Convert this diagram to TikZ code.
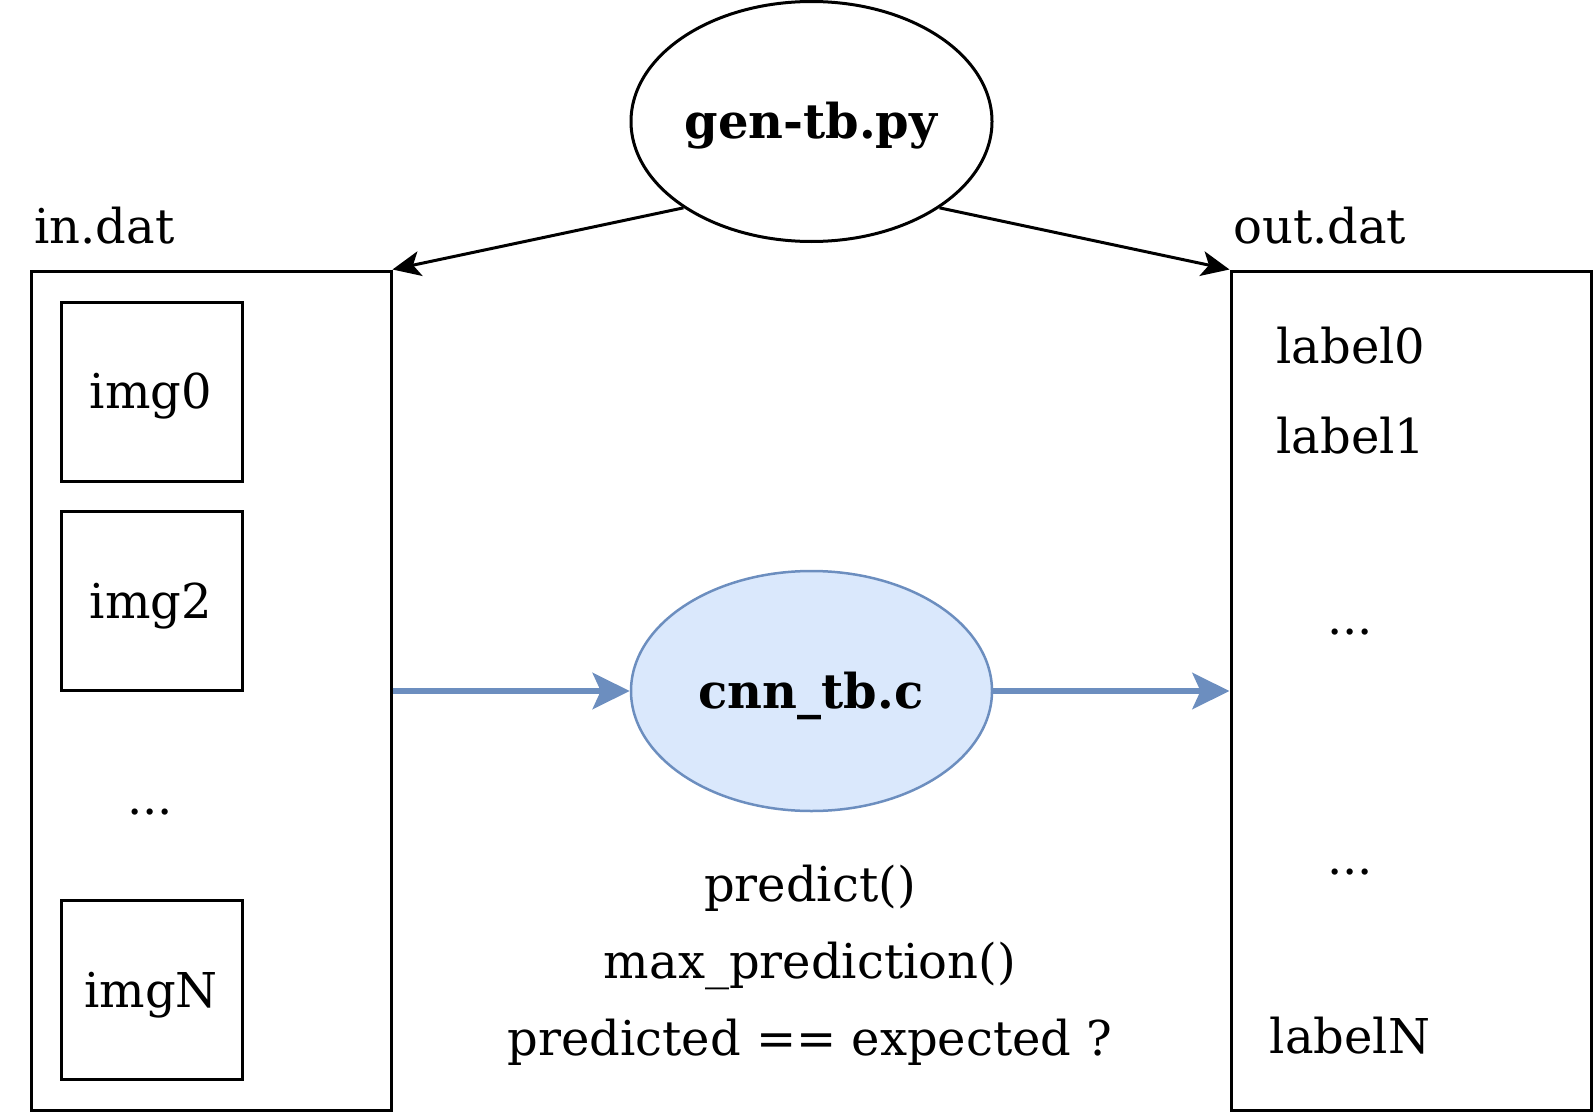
\documentclass[tikz,border=0pt]{standalone}
\usepackage{fontspec}
\setmainfont{DejaVu Serif}
\usetikzlibrary{arrows.meta,shapes.geometric}
\definecolor{bstroke}{HTML}{6C8EBF}
\definecolor{bfill}{HTML}{DAE8FC}
\tikzset{
  txt/.style={inner sep=0pt, anchor=base, font=\fontsize{48}{56}\selectfont},
  filebox/.style={draw, line width=3pt, rectangle, inner sep=0pt},
  imgbox/.style={draw, line width=3pt, rectangle, inner sep=0pt, minimum width=181pt, minimum height=179pt},
  proc/.style={draw, ellipse, inner sep=0pt, minimum width=361pt, minimum height=240pt},
  blk/.style={line width=3pt, -{Stealth[length=28pt,width=25pt,inset=7pt]}},
  blu/.style={line width=6pt, draw=bstroke, -{Stealth[length=37pt,width=36pt,inset=8pt]}, bstroke},
}
\begin{document}
\begin{tikzpicture}[x=1pt,y=-1pt]
\useasboundingbox (0,0) rectangle (1593,1116);
% boxes
\node[filebox, minimum width=360pt, minimum height=839pt] (inbox) at (211,690.5) {};
\node[filebox, minimum width=360pt, minimum height=839pt] (outbox) at (1411,690.5) {};
\node[txt, anchor=base west] (intitle) at (34,243) {in.dat};
\node[txt, anchor=base west] (outtitle) at (1233,243) {out.dat};
% images
\node[imgbox] (img0) at (151.5,391.5) {};
\node[imgbox] (img2) at (151.5,601) {};
\node[imgbox] (imgN) at (151.5,990) {};
\node[txt] (t0) at (151,408) {img0};
\node[txt] (t2) at (151,618) {img2};
\node[txt] (tN) at (151,1007) {imgN};
\node[txt] (ldots) at (150,814) {...};
% labels
\node[txt] (l0) at (1351,363) {label0};
\node[txt] (l1) at (1351,453) {label1};
\node[txt] (rd1) at (1350,634) {...};
\node[txt] (rd2) at (1350,874) {...};
\node[txt] (lN) at (1350,1053) {labelN};
% ellipses
\node[proc, line width=3pt] (gen) at (811.5,121.5) {};
\node[txt, font=\fontsize{48}{56}\selectfont\bfseries] (gent) at (811,138) {gen-tb.py};
\node[proc, line width=2.5pt, draw=bstroke, fill=bfill] (cnn) at (811.5,691) {};
\node[txt, font=\fontsize{48}{56}\selectfont\bfseries] (cnnt) at (811,708) {cnn\_tb.c};
% text below
\node[txt] (p1) at (810,901) {predict()};
\node[txt] (p2) at (810,978) {max\_prediction()};
\node[txt] (p3) at (810,1055) {predicted == expected ?};
% connectors
\draw[blk] (gen.214) -- (inbox.north east);
\draw[blk] (gen.-34) -- (outbox.north west);
\draw[blu] (inbox.east |- cnn.west) -- (cnn.west);
\draw[blu] (cnn.east) -- (outbox.west |- cnn.east);
\end{tikzpicture}
\end{document}
